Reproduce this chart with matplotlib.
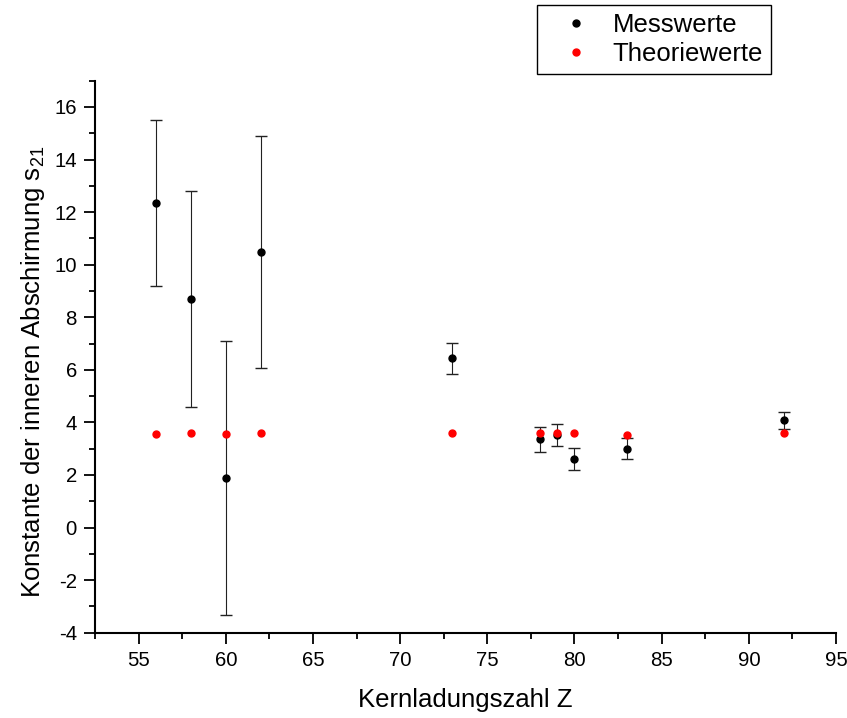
import numpy as np
import matplotlib
matplotlib.use("Agg")
import matplotlib.pyplot as plt
from matplotlib.ticker import MultipleLocator
from matplotlib.lines import Line2D

plt.rcParams['font.family'] = ['Liberation Sans', 'DejaVu Sans']
plt.rcParams['axes.unicode_minus'] = False
plt.rcParams['mathtext.fontset'] = 'custom'
plt.rcParams['mathtext.rm'] = 'Liberation Sans'
plt.rcParams['mathtext.it'] = 'Liberation Sans'

# --- Daten ---
Z = [56, 58, 60, 62, 73, 78, 79, 80, 83, 92]
s21_mess = [12.36, 8.70, 1.88, 10.48, 6.44, 3.36, 3.52, 2.62, 3.00, 4.08]
s21_err = [3.16, 4.12, 5.20, 4.40, 0.58, 0.47, 0.43, 0.42, 0.39, 0.33]
s21_theo = [3.56, 3.59, 3.57, 3.61, 3.58, 3.58, 3.58, 3.58, 3.51, 3.59]

fig = plt.figure(figsize=(8.47, 7.18), dpi=100)
ax = fig.add_axes([95 / 847, 1 - 632.7 / 718, (836 - 95) / 847, (632.7 - 80.7) / 718])

ax.errorbar(Z, s21_mess, yerr=s21_err, fmt='o', color='black', ms=5,
            ecolor='#222222', elinewidth=0.8, capsize=4.2, capthick=1.0,
            zorder=3)
ax.plot(Z, s21_theo, 'o', color='#ff0000', ms=5, zorder=4)

ax.set_xlim(52.5, 95)
ax.set_ylim(-4, 17)
ax.xaxis.set_major_locator(MultipleLocator(5))
ax.xaxis.set_minor_locator(MultipleLocator(2.5))
ax.yaxis.set_major_locator(MultipleLocator(2))
ax.yaxis.set_minor_locator(MultipleLocator(1))

for side in ('top', 'right'):
    ax.spines[side].set_visible(False)
for side in ('left', 'bottom'):
    ax.spines[side].set_linewidth(1.5)

ax.tick_params(which='major', direction='out', length=8, width=1.3,
               labelsize=14.7, pad=5)
ax.tick_params(which='minor', direction='out', length=4, width=1.3)

ax.set_xlabel('Kernladungszahl Z', fontsize=18.5, labelpad=13)
ax.set_ylabel(r'Konstante der inneren Abschirmung s$_{\mathrm{21}}$', fontsize=18.5)
ax.yaxis.set_label_coords(-0.065, 0.472)

handles = [Line2D([], [], ls='none', marker='o', color='black', ms=5),
           Line2D([], [], ls='none', marker='o', color='#ff0000', ms=5)]
leg = fig.legend(handles, ['Messwerte', 'Theoriewerte'], loc='upper left',
                 bbox_to_anchor=(537 / 847, 1 - 5 / 718),
                 borderaxespad=0, fontsize=18.5, fancybox=False, framealpha=1,
                 edgecolor='black', handletextpad=0.25, labelspacing=0.2,
                 borderpad=0.3, handlelength=2.4)
leg.get_frame().set_linewidth(1.0)

fig.savefig('out.png', dpi=100)
